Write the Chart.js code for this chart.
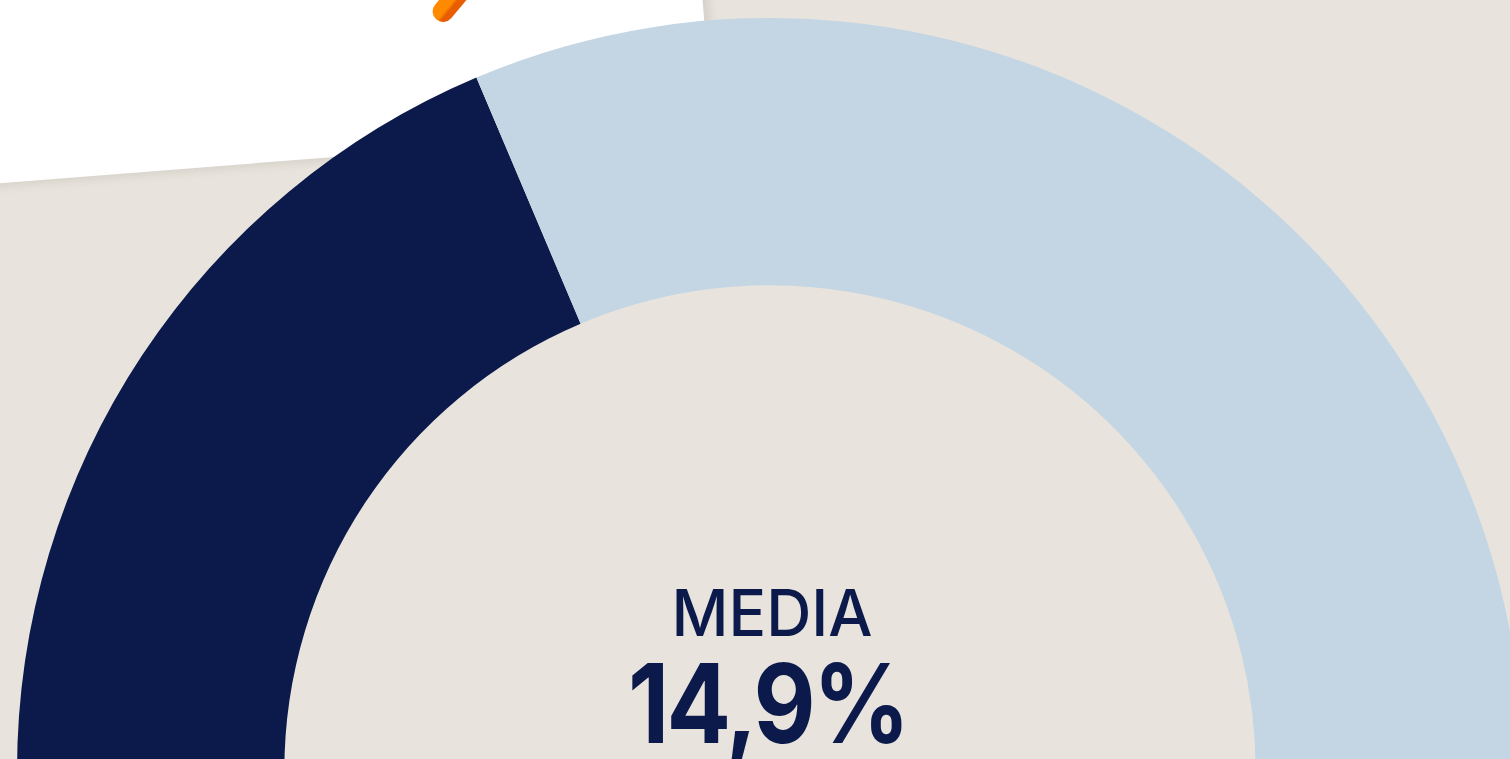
<!DOCTYPE html>
<html>
<head>
<meta charset="utf-8">
<script src="https://cdn.jsdelivr.net/npm/chart.js@4/dist/chart.umd.min.js"></script>
<style>
  html, body { margin: 0; padding: 0; }
  body { width: 1510px; height: 759px; overflow: hidden; background: #e8e4dd; position: relative; }
  /* sheet of paper behind the gauge */
  .paper {
    position: absolute; left: -60px; top: -532px; width: 775px; height: 720px;
    background: #fff; transform: rotate(-4.5deg); transform-origin: 0 100%;
    box-shadow: 6px 3px 9px rgba(120,110,95,0.16);
  }
  .pencil {
    position: absolute; left: 449px; top: -44px; width: 21px; height: 72px;
    border-radius: 11px; background: linear-gradient(90deg, #ff8a00 0%, #ff8a00 55%, #e85d00 70%, #e85d00 100%);
    transform: rotate(40deg); transform-origin: 50% 50%;
  }
  #wrap { position: absolute; left: 17px; top: 18px; width: 1506px; height: 753px; }
</style>
</head>
<body>
<div class="paper"></div>
<div class="pencil"></div>
<div id="wrap"><canvas id="gauge"></canvas></div>
<script>
  // data
  const labels = ['Media', 'Resto'];
  const mediaValue = 14.9;     // percent shown in the centre
  const gaugeMax = 40;         // full scale of the half ring
  const values = [mediaValue, gaugeMax - mediaValue];
  const colors = ['#0b1a4b', '#c4d6e4'];
  const centerTitle = 'MEDIA';
  const centerValue = '14,9%';

  // fit a string to a target width: light tracking, then squeeze horizontally
  function fitText(c, text, x, y, width, tracking) {
    c.letterSpacing = tracking + 'px';
    const w = c.measureText(text).width - tracking;
    const sx = Math.min(1, width / w);
    c.save();
    c.translate(x, y);
    c.scale(sx, 1);
    c.fillText(text, tracking / 2, 0);
    c.restore();
  }

  // draws the two lines of text inside the ring
  const centerText = {
    id: 'centerText',
    afterDraw(chart) {
      const arc = chart.getDatasetMeta(0).data[0];
      if (!arc) return;
      const c = chart.ctx;
      c.save();
      c.fillStyle = '#0b1a4b';
      c.textAlign = 'center';
      c.textBaseline = 'alphabetic';
      c.font = '500 64px Inter';
      fitText(c, centerTitle, arc.x + 2, arc.y - 135, 201, 0);
      c.font = '700 110px Inter';
      fitText(c, centerValue, arc.x - 1, arc.y - 28, 282, -3);
      c.restore();
    }
  };

  new Chart(document.getElementById('gauge'), {
    type: 'doughnut',
    data: {
      labels: labels,
      datasets: [{
        data: values,
        backgroundColor: colors,
        borderWidth: 0,
        hoverOffset: 0
      }]
    },
    options: {
      responsive: true,
      maintainAspectRatio: false,
      animation: false,
      rotation: -90,
      circumference: 180,
      cutout: '64.5%',
      layout: { padding: 0 },
      plugins: { legend: { display: false }, tooltip: { enabled: false } }
    },
    plugins: [centerText]
  });
</script>
</body>
</html>
